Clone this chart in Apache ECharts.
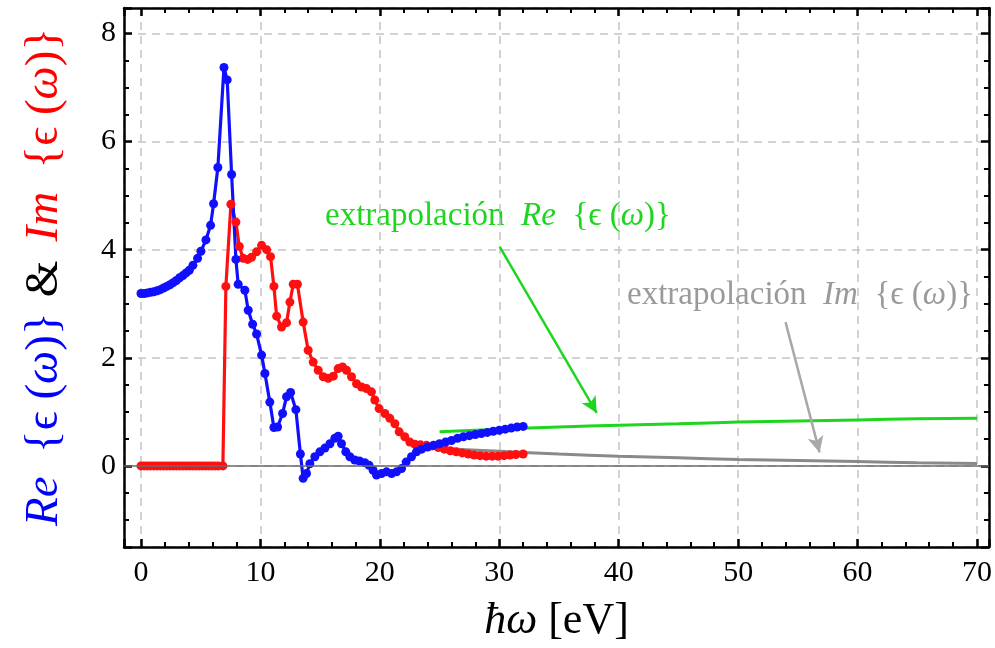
<!DOCTYPE html>
<html>
<head>
<meta charset="utf-8">
<script src="https://cdn.jsdelivr.net/npm/echarts@6/dist/echarts.min.js"></script>
<style>
html, body { margin: 0; padding: 0; background: #fff; }
#chart { width: 995px; height: 648px; }
</style>
</head>
<body>
<div id="chart"></div>
<script>
// Re{eps(w)}
var reX = [0.00,0.27,0.54,0.81,1.08,1.35,1.62,1.89,2.16,2.43,2.70,2.97,3.24,3.51,3.78,4.05,4.35,4.74,5.02,5.44,5.83,6.08,6.44,6.95,7.22,7.59,7.95,8.14,8.70,8.98,9.35,9.68,10.10,10.38,10.79,11.13,11.44,11.86,12.19,12.53,12.97,13.35,13.58,13.86,14.14,14.56,14.98,15.40,15.82,16.23,16.51,16.79,17.15,17.49,17.90,18.30,18.74,19.10,19.44,19.72,20.14,20.56,20.98,21.40,21.82,22.20,22.65,23.07,23.50,24.00,24.50,25.00,25.50,26.00,26.50,27.00,27.50,28.00,28.50,29.00,29.50,30.00,30.50,31.00,31.50,32.00];
var reY = [3.19,3.19,3.20,3.21,3.22,3.24,3.26,3.29,3.32,3.35,3.39,3.43,3.48,3.52,3.57,3.62,3.71,3.84,3.97,4.18,4.45,4.85,5.52,7.37,7.14,5.39,3.82,3.36,3.25,2.88,2.62,2.44,2.05,1.71,1.18,0.71,0.72,0.97,1.28,1.36,1.04,0.22,-0.23,-0.14,0.04,0.17,0.26,0.33,0.41,0.51,0.55,0.41,0.26,0.17,0.11,0.09,0.06,0.01,-0.08,-0.17,-0.14,-0.11,-0.14,-0.11,-0.05,0.07,0.17,0.26,0.31,0.35,0.38,0.41,0.44,0.47,0.51,0.54,0.56,0.58,0.60,0.62,0.64,0.66,0.68,0.70,0.72,0.73];

// Im{eps(w)}
var imX = [0.00,0.27,0.54,0.81,1.08,1.35,1.62,1.89,2.16,2.43,2.70,2.97,3.24,3.51,3.78,4.05,4.32,4.59,4.86,5.13,5.40,5.67,5.94,6.21,6.48,6.86,7.11,7.53,7.95,8.23,8.56,8.93,9.26,9.68,10.10,10.52,10.85,11.13,11.36,11.77,12.19,12.47,12.75,13.10,13.58,14.00,14.42,14.84,15.26,15.68,16.10,16.51,16.88,17.21,17.63,18.05,18.47,18.88,19.30,19.58,19.94,20.42,20.84,21.26,21.62,22.09,22.51,22.93,23.40,23.90,24.40,24.90,25.40,25.90,26.40,26.90,27.40,27.90,28.40,28.90,29.40,29.90,30.40,30.90,31.40,32.00];
var imY = [0,0,0,0,0,0,0,0,0,0,0,0,0,0,0,0,0,0,0,0,0,0,0,0,0,0,3.32,4.84,4.51,4.06,3.84,3.82,3.86,3.96,4.08,4.00,3.87,3.32,2.77,2.57,2.65,3.03,3.36,3.36,2.66,2.14,1.92,1.77,1.65,1.62,1.66,1.80,1.83,1.77,1.65,1.52,1.46,1.43,1.37,1.22,1.06,0.97,0.88,0.78,0.63,0.54,0.44,0.40,0.39,0.38,0.37,0.34,0.31,0.28,0.26,0.24,0.22,0.20,0.19,0.18,0.18,0.18,0.19,0.20,0.21,0.22];

// extrapolaciones
var extX = [25,30,35,40,45,50,55,60,65,70];
var extReY = [0.63,0.68,0.72,0.75,0.78,0.81,0.83,0.85,0.87,0.88];
var extImY = [0.32,0.27,0.22,0.18,0.15,0.12,0.10,0.08,0.06,0.045];

// flechas de las anotaciones [x0,y0,x1,y1]
var arrowRe = [30.04, 4.05, 38.16, 0.98];
var arrowIm = [53.97, 2.66, 56.82, 0.25];

function pairs(xs, ys){
	var out = [];
	for(var i=0;i<xs.length;i++){
		out.push([xs[i], ys[i]]);
	}
	return out;
}

var serif = 'Liberation Serif';
var GREEN = '#1ed61e', GRAYTXT = '#9a9a9a';

function xAx(pos, showLabel){
	return {
		type: 'value', position: pos, min: -1.42, max: 71, splitNumber: 7,
		axisLine: { show: true, onZero: false, lineStyle: { color: '#000', width: 2.5 } },
		axisTick: { show: true, inside: true, length: 8, lineStyle: { color: '#000', width: 2.5 } },
		minorTick: { show: true, splitNumber: 5, length: 5, lineStyle: { color: '#000', width: 2 } },
		axisLabel: showLabel ? {
			show: true, margin: 11, fontFamily: serif, fontSize: 30, color: '#000',
			formatter: function(v){ return (Math.abs(v % 10) < 1e-9) ? String(v) : ''; }
		} : { show: false },
		splitLine: showLabel ? { show: true, lineStyle: { color: '#c4c4c4', width: 1.5, type: [8, 6] } } : { show: false }
	};
}
function yAx(pos, showLabel){
	return {
		type: 'value', position: pos, min: -1.5, max: 8.47, splitNumber: 5,
		axisLine: { show: true, onZero: false, lineStyle: { color: '#000', width: 2.5 } },
		axisTick: { show: true, inside: true, length: 8, lineStyle: { color: '#000', width: 2.5 } },
		minorTick: { show: true, splitNumber: 4, length: 5, lineStyle: { color: '#000', width: 2 } },
		axisLabel: showLabel ? {
			show: true, margin: 8, fontFamily: serif, fontSize: 30, color: '#000',
			formatter: function(v){ return (Math.abs(v % 2) < 1e-9) ? String(v) : ''; }
		} : { show: false },
		splitLine: showLabel ? { show: true, lineStyle: { color: '#c4c4c4', width: 1.5, type: [8, 6] } } : { show: false }
	};
}

var xMain = xAx('bottom', true);
xMain.name = '{i|ħω}{n| [eV]}';
xMain.nameLocation = 'middle';
xMain.nameGap = 52;
xMain.nameTextStyle = {
	rich: {
		i: { fontFamily: serif, fontStyle: 'italic', fontSize: 44, color: '#000' },
		n: { fontFamily: serif, fontSize: 44, color: '#000' }
	}
};

// texto con "}" final en el estilo base (rich no admite "}" dentro)
function mathText(prefix, sym, color, size){
	return {
		text: prefix + '{i|' + sym + '}{n|  {ϵ (}{i|ω}{n|)}}',
		fontFamily: serif, fontSize: size, fill: color,
		rich: {
			n: { fontFamily: serif, fontSize: size, fill: color },
			i: { fontFamily: serif, fontStyle: 'italic', fontSize: size, fill: color }
		}
	};
}

var greenStyle = mathText('{n|extrapolación  }', 'Re', GREEN, 33);
var grayStyle = mathText('{n|extrapolación  }', 'Im', GRAYTXT, 33);

var blueTitle = mathText('', 'Re', '#0000ff', 47);
blueTitle.align = 'left'; blueTitle.verticalAlign = 'middle';
var redTitle = mathText('', 'Im', '#ff0000', 47);
redTitle.align = 'right'; redTitle.verticalAlign = 'middle';

var chart = echarts.init(document.getElementById('chart'), null, { renderer: 'canvas' });
var option = {
	animation: false,
	backgroundColor: '#fff',
	grid: { left: 124, right: 5, top: 8, bottom: 101, containLabel: false },
	xAxis: [ xMain, xAx('top', false) ],
	yAxis: [ yAx('left', true), yAx('right', false) ],
	graphic: [
		{ type: 'text', left: 325, top: 200, silent: true, style: greenStyle },
		{ type: 'text', left: 627, top: 279, silent: true, style: grayStyle },
		// titulo del eje y, de abajo hacia arriba
		{ type: 'text', x: 45, y: 526, rotation: Math.PI / 2, silent: true, style: blueTitle },
		{ type: 'text', x: 45, y: 279, rotation: Math.PI / 2, silent: true,
			style: { text: '&', fontFamily: serif, fontSize: 47, fill: '#000', align: 'center', verticalAlign: 'middle' } },
		{ type: 'text', x: 45, y: 28, rotation: Math.PI / 2, silent: true, style: redTitle }
	],
	series: [
		{
			name: 'cero', type: 'line', data: [], silent: true,
			markLine: {
				silent: true, symbol: ['none', 'none'], label: { show: false },
				lineStyle: { color: '#6a6a6a', width: 1.5, type: 'solid' },
				data: [ { yAxis: 0 } ]
			}
		},
		{
			name: 'Im', type: 'line', data: pairs(imX, imY),
			symbol: 'circle', symbolSize: 9,
			lineStyle: { color: '#ff1010', width: 3.2 },
			itemStyle: { color: '#ff1010' }
		},
		{
			name: 'Re', type: 'line', data: pairs(reX, reY),
			symbol: 'circle', symbolSize: 9,
			lineStyle: { color: '#1010ff', width: 3.2 },
			itemStyle: { color: '#1010ff' }
		},
		{
			name: 'extRe', type: 'line', data: pairs(extX, extReY), showSymbol: false, smooth: true,
			lineStyle: { color: GREEN, width: 3 },
			markLine: {
				silent: true, symbol: ['none', 'arrow'], symbolSize: [12, 16], label: { show: false },
				lineStyle: { color: GREEN, width: 2.5, type: 'solid' },
				data: [[ { coord: [arrowRe[0], arrowRe[1]] }, { coord: [arrowRe[2], arrowRe[3]] } ]]
			}
		},
		{
			name: 'extIm', type: 'line', data: pairs(extX, extImY), showSymbol: false, smooth: true,
			lineStyle: { color: '#8a8a8a', width: 3 },
			markLine: {
				silent: true, symbol: ['none', 'arrow'], symbolSize: [12, 16], label: { show: false },
				lineStyle: { color: '#a8a8a8', width: 2.5, type: 'solid', curveness: 0.08 },
				data: [[ { coord: [arrowIm[0], arrowIm[1]] }, { coord: [arrowIm[2], arrowIm[3]] } ]]
			}
		}
	]
};
chart.setOption(option);
</script>
</body>
</html>
